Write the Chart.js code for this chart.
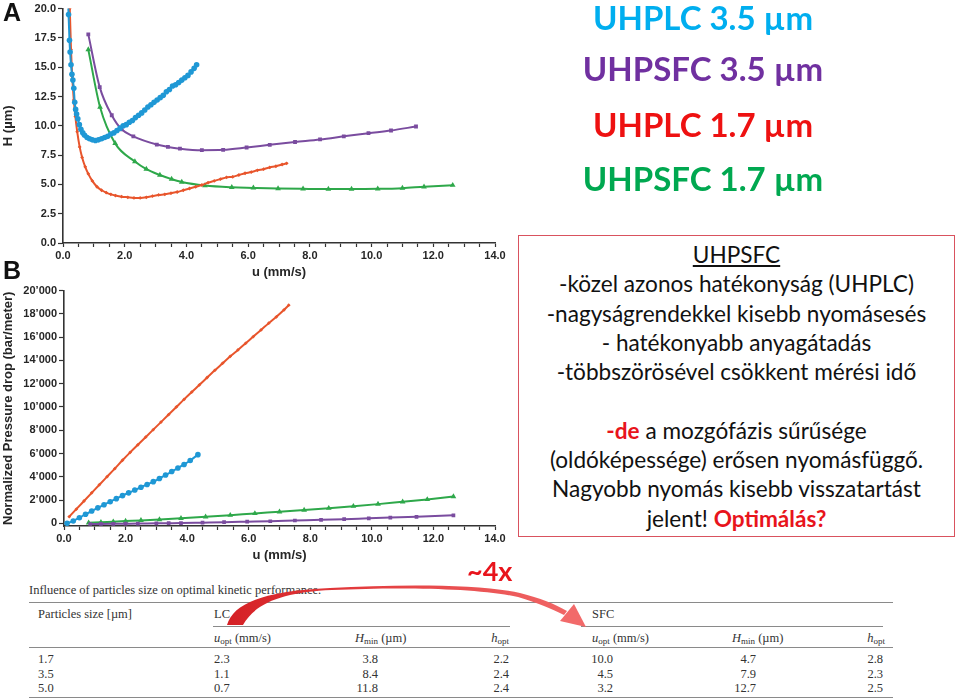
<!DOCTYPE html>
<html>
<head>
<meta charset="utf-8">
<script src="https://cdn.jsdelivr.net/npm/chart.js@4.4.1/dist/chart.umd.min.js"></script>
<style>
    body { margin: 0; width: 959px; height: 700px; position: relative; overflow: hidden; background: #fff; font-family: Lato, sans-serif; }
    canvas { position: absolute; left: 0; }
    .panel { position: absolute; left: 3px; font: bold 25px 'Liberation Sans', sans-serif; color: #111; line-height: 1; }
    .big { position: absolute; left: 503px; width: 400px; text-align: center; font-weight: bold; font-size: 33px; line-height: 1; white-space: nowrap; }
    .box { position: absolute; left: 518px; top: 235px; width: 437px; height: 302px; box-sizing: border-box; border: 1.5px solid #d9525e;
           padding-top: 4px; text-align: center; font-size: 22.6px; line-height: 29.3px; color: #111; white-space: nowrap; }
    .red { color: #e8141c; font-weight: bold; }
    .t { position: absolute; font: 12.5px 'Liberation Serif', serif; color: #333; line-height: 14px; white-space: nowrap; }
    .t sub { font-size: 9px; vertical-align: -2px; line-height: 0; }
    .rule { position: absolute; height: 0; border-top: 1.4px solid #8a8a8a; }
    .four { position: absolute; left: 467px; top: 557px; font-weight: bold; font-size: 27px; line-height: 1; color: #e8141c; }
</style>
</head>
<body>

<canvas id="chart-a" width="510" height="285" style="top:0;width:510px;height:285px"></canvas>
<canvas id="chart-b" width="510" height="286" style="top:282px;width:510px;height:286px"></canvas>
<div class="panel" style="top:0">A</div>
<div class="panel" style="top:258px">B</div>

<div class="big" style="top:1px;color:#00aeef">UHPLC 3.5 µm</div>
<div class="big" style="top:52px;color:#7030a0">UHPSFC 3.5 µm</div>
<div class="big" style="top:108px;color:#ee1111">UHPLC 1.7 µm</div>
<div class="big" style="top:162px;color:#00a850">UHPSFC 1.7 µm</div>

<div class="box">
    <u>UHPSFC</u><br>
    -közel azonos hatékonyság (UHPLC)<br>
    -nagyságrendekkel kisebb nyomásesés<br>
    - hatékonyabb anyagátadás<br>
    -többszörösével csökkent mérési idő<br>
    <br>
    <span class="red">-de</span> a mozgófázis sűrűsége<br>
    (oldóképessége) erősen nyomásfüggő.<br>
    Nagyobb nyomás kisebb visszatartást<br>
    jelent! <span class="red">Optimálás?</span>
</div>

<!-- table -->
<div class="t" style="left:29px;top:583px">Influence of particles size on optimal kinetic performance.</div>
<div class="rule" style="left:29px;top:602px;width:864px"></div>
<div class="t" style="left:38px;top:607px">Particles size [µm]</div>
<div class="t" style="left:214px;top:607px">LC</div>
<div class="t" style="left:592px;top:607px">SFC</div>
<div class="rule" style="left:213px;top:626px;width:297px"></div>
<div class="rule" style="left:581px;top:626px;width:302px"></div>
<div class="t" style="left:214px;top:631px"><i>u</i><sub>opt</sub> (mm/s)</div>
<div class="t" style="left:355px;top:631px"><i>H</i><sub>min</sub> (µm)</div>
<div class="t" style="right:450px;top:631px"><i>h</i><sub>opt</sub></div>
<div class="t" style="left:592px;top:631px"><i>u</i><sub>opt</sub> (mm/s)</div>
<div class="t" style="left:732px;top:631px"><i>H</i><sub>min</sub> (µm)</div>
<div class="t" style="right:74px;top:631px"><i>h</i><sub>opt</sub></div>
<div class="rule" style="left:29px;top:647px;width:864px"></div>
<div id="rows"></div>
<div class="rule" style="left:29px;top:697px;width:864px"></div>

<div class="four">~4x</div>
<svg width="959" height="700" style="position:absolute;left:0;top:0;pointer-events:none">
    <defs>
        <linearGradient id="arrowFill" x1="220" y1="0" x2="590" y2="0" gradientUnits="userSpaceOnUse">
            <stop offset="0" stop-color="#d41f24"/>
            <stop offset="0.35" stop-color="#e23a3c"/>
            <stop offset="1" stop-color="#f26a6a"/>
        </linearGradient>
    </defs>
    <path fill="url(#arrowFill)" d="M 227 625 C 233 604, 262 591, 330 588 C 400 584, 480 584, 520 593 C 540 598, 555 604, 567 611 L 564 615 C 552 609, 538 603, 518 597 C 478 588, 400 587, 332 590 C 285 592, 256 602, 243 625 Z"/>
    <polygon fill="#f26a6a" points="574,604 586,627 560,621"/>
</svg>

<script>
// ---- Panel A: H (µm) vs u (mm/s) ----
const hplc35U = [0.15, 0.18, 0.21, 0.23, 0.26, 0.29, 0.32, 0.35, 0.38, 0.41, 0.44, 0.48, 0.53, 0.58, 0.64, 0.70, 0.78, 0.86, 0.95, 1.05, 1.15, 1.25, 1.35, 1.45, 1.55, 1.65, 1.75, 1.85, 1.95, 2.05, 2.15, 2.25, 2.35, 2.45, 2.55, 2.65, 2.75, 2.85, 2.95, 3.05, 3.15, 3.25, 3.35, 3.45, 3.55, 3.65, 3.75, 3.85, 3.95, 4.05, 4.15, 4.25, 4.33];
const hplc35H = [22, 19.5, 17.3, 16.3, 15.2, 14.4, 13.9, 13.2, 12.0, 11.4, 11.0, 10.6, 10.1, 9.7, 9.4, 9.2, 9.0, 8.9, 8.8, 8.75, 8.8, 8.9, 9.0, 9.1, 9.3, 9.4, 9.6, 9.8, 10.0, 10.1, 10.3, 10.45, 10.7, 10.9, 11.1, 11.35, 11.6, 11.8, 12.0, 12.2, 12.4, 12.6, 12.9, 13.1, 13.4, 13.5, 13.7, 13.9, 14.1, 14.3, 14.6, 14.9, 15.2];

const hplc17U = [0.18, 0.22, 0.26, 0.30, 0.35, 0.40, 0.46, 0.54, 0.62, 0.72, 0.82, 0.95, 1.1, 1.25, 1.4, 1.55, 1.7, 1.9, 2.1, 2.3, 2.5, 2.7, 2.9, 3.1, 3.3, 3.5, 3.7, 3.9, 4.1, 4.3, 4.5, 4.7, 4.9, 5.1, 5.3, 5.5, 5.7, 5.9, 6.1, 6.3, 6.5, 6.7, 6.9, 7.1, 7.25];
const hplc17H = [24, 20, 16.5, 14.2, 12.2, 10.8, 9.5, 8.2, 7.3, 6.5, 5.9, 5.3, 4.8, 4.5, 4.3, 4.15, 4.05, 3.95, 3.9, 3.85, 3.85, 3.9, 4.0, 4.1, 4.15, 4.25, 4.35, 4.5, 4.65, 4.8, 4.95, 5.15, 5.3, 5.45, 5.6, 5.65, 5.8, 5.95, 6.05, 6.2, 6.3, 6.45, 6.55, 6.7, 6.8];

const sfc35U = [0.82, 1.19, 1.58, 1.9, 2.28, 3.04, 3.4, 3.79, 4.5, 5.19, 5.95, 6.7, 7.52, 8.33, 9.1, 9.9, 10.63, 11.44];
const sfc35H = [17.8, 13.3, 10.9, 9.7, 9.1, 8.4, 8.2, 8.05, 7.92, 7.95, 8.15, 8.38, 8.62, 8.84, 9.1, 9.37, 9.6, 9.94];

const sfc17U = [0.82, 1.2, 1.69, 2.33, 2.7, 3.14, 3.52, 3.85, 4.6, 5.47, 6.17, 6.97, 7.78, 8.6, 9.35, 10.2, 11.0, 11.7, 12.63];
const sfc17H = [16.5, 11.6, 8.5, 6.95, 6.3, 5.8, 5.45, 5.2, 4.9, 4.75, 4.7, 4.65, 4.62, 4.6, 4.6, 4.62, 4.68, 4.8, 4.93];

// ---- Panel B: normalized pressure drop (bar/meter) vs u (mm/s) ----
const dpHplc35U = [0.1, 0.3, 0.5, 0.7, 0.9, 1.1, 1.3, 1.5, 1.7, 1.9, 2.1, 2.3, 2.5, 2.7, 2.9, 3.1, 3.3, 3.5, 3.7, 3.9, 4.1, 4.35];
const dpHplc35P = [0, 200, 480, 780, 1060, 1330, 1600, 1860, 2120, 2380, 2620, 2860, 3100, 3340, 3580, 3850, 4150, 4450, 4750, 5060, 5400, 5900];

const dpHplc17U = [0.17, 0.4, 0.65, 0.9, 1.15, 1.4, 1.65, 1.9, 2.15, 2.4, 2.65, 2.9, 3.15, 3.4, 3.65, 3.9, 4.15, 4.4, 4.65, 4.9, 5.15, 5.4, 5.65, 5.9, 6.15, 6.4, 6.65, 6.9, 7.15, 7.3];
const dpHplc17P = [570, 1220, 1920, 2620, 3320, 4010, 4700, 5420, 6100, 6750, 7400, 8050, 8700, 9350, 10000, 10650, 11280, 11900, 12530, 13150, 13750, 14350, 14900, 15470, 16050, 16620, 17200, 17750, 18350, 18750];

const dpSfc35U = [0.85, 1.2, 1.6, 2.0, 2.4, 3.0, 3.4, 3.8, 4.5, 5.2, 5.95, 6.7, 7.5, 8.35, 9.1, 9.9, 10.6, 11.45, 12.65];
const dpSfc35P = [-60, -50, -40, -30, -20, 0, 10, 20, 60, 100, 140, 180, 240, 300, 360, 430, 490, 560, 690];

const dpSfc17U = [0.8, 1.2, 1.6, 2.0, 2.5, 3.1, 3.8, 4.6, 5.4, 6.2, 7.0, 7.8, 8.6, 9.4, 10.2, 11.0, 11.8, 12.65];
const dpSfc17P = [40, 90, 140, 190, 250, 330, 430, 560, 700, 850, 990, 1140, 1300, 1470, 1650, 1850, 2050, 2300];

const pressureTicks = [0, 2000, 4000, 6000, 8000, 10000, 12000, 14000, 16000, 18000, 20000];

// ---- table ----
const particleSizes = ['1.7', '3.5', '5.0'];
const lcUopt = ['2.3', '1.1', '0.7'];
const lcHmin = ['3.8', '8.4', '11.8'];
const lcHopt = ['2.2', '2.4', '2.4'];
const sfcUopt = ['10.0', '4.5', '3.2'];
const sfcHmin = ['4.7', '7.9', '12.7'];
const sfcHopt = ['2.8', '2.3', '2.5'];

const colors = {
    hplc35: '#1f98d5',
    hplc17: '#e8552c',
    sfc35: '#7a4c9f',
    sfc17: '#2ea84a'
};
const axisColor = '#333';
const textColor = '#262626';
const tickFont = { family: 'Liberation Sans', size: 11, weight: 'bold' };
const titleFont = { family: 'Liberation Sans', size: 13, weight: 'bold' };

function pts(xs, ys) {
    return xs.map((x, i) => ({ x: x, y: ys[i] }));
}

function series(xs, ys, color, style, radius) {
    return {
        data: pts(xs, ys),
        showLine: true,
        borderColor: color,
        backgroundColor: color,
        borderWidth: 2,
        pointStyle: style,
        pointRadius: radius,
        pointBorderWidth: 0,
        cubicInterpolationMode: 'monotone'
    };
}

function uAxis() {
    return {
        type: 'linear',
        min: 0,
        max: 14,
        border: { color: axisColor, width: 1.6 },
        grid: { drawOnChartArea: false, tickLength: 4, color: axisColor, tickWidth: 1.2 },
        ticks: {
            stepSize: 0.5,
            autoSkip: false,
            maxRotation: 0,
            padding: 2,
            color: textColor,
            font: tickFont,
            callback: v => (v % 2 === 0 ? v.toFixed(1) : '')
        },
        title: { display: true, text: 'u (mm/s)', color: textColor, font: titleFont, padding: { top: 0, bottom: 5 } },
        afterFit: scale => { scale.height = 42; }
    };
}

const common = {
    responsive: false,
    animation: false,
    plugins: { legend: { display: false }, tooltip: { enabled: false } }
};

new Chart(document.getElementById('chart-a'), {
    type: 'scatter',
    data: {
        datasets: [
            series(hplc35U, hplc35H, colors.hplc35, 'circle', 2.8),
            series(hplc17U, hplc17H, colors.hplc17, 'rectRot', 1.9),
            series(sfc35U, sfc35H, colors.sfc35, 'rect', 2.7),
            series(sfc17U, sfc17H, colors.sfc17, 'triangle', 3.3)
        ]
    },
    options: Object.assign({}, common, {
        layout: { padding: { top: 7, right: 15, left: 0, bottom: 0 } },
        scales: {
            x: uAxis(),
            y: {
                min: 0,
                max: 20,
                border: { color: axisColor, width: 1.6 },
                grid: { drawOnChartArea: false, tickLength: 5, color: axisColor, tickWidth: 1.2 },
                ticks: { stepSize: 2.5, padding: 2, color: textColor, font: tickFont, callback: v => v.toFixed(1) },
                title: { display: true, text: 'H (µm)', color: textColor, font: titleFont, padding: { top: 1, bottom: 0 } },
                afterFit: scale => { scale.width = 63; }
            }
        }
    })
});

new Chart(document.getElementById('chart-b'), {
    type: 'scatter',
    data: {
        datasets: [
            series(dpHplc35U, dpHplc35P, colors.hplc35, 'circle', 2.8),
            series(dpHplc17U, dpHplc17P, colors.hplc17, 'rectRot', 1.9),
            series(dpSfc35U, dpSfc35P, colors.sfc35, 'rect', 2.6),
            series(dpSfc17U, dpSfc17P, colors.sfc17, 'triangle', 3.3)
        ]
    },
    options: Object.assign({}, common, {
        layout: { padding: { top: 6, right: 15, left: 0, bottom: 0 } },
        scales: {
            x: uAxis(),
            y: {
                min: -230,
                max: 20000,
                border: { color: axisColor, width: 1.6 },
                grid: { drawOnChartArea: false, tickLength: 5, color: axisColor, tickWidth: 1.2 },
                ticks: {
                    padding: 2,
                    color: textColor,
                    font: tickFont,
                    callback: v => (v === 0 ? '0' : (v / 1000) + '\u2019000')
                },
                afterBuildTicks: scale => {
                    scale.ticks = pressureTicks.map(v => ({ value: v }));
                },
                title: { display: true, text: 'Normalized Pressure drop (bar/meter)', color: textColor, font: titleFont, padding: { top: 1, bottom: 0 } },
                afterFit: scale => { scale.width = 64; }
            }
        }
    })
});

// table body rows
const rowTops = [652, 666.5, 681];
const rowsEl = document.getElementById('rows');
rowsEl.innerHTML = particleSizes.map((p, i) => `
    <div class="t" style="left:38px;top:${rowTops[i]}px">${p}</div>
    <div class="t" style="left:214px;top:${rowTops[i]}px">${lcUopt[i]}</div>
    <div class="t" style="right:581px;top:${rowTops[i]}px">${lcHmin[i]}</div>
    <div class="t" style="right:450px;top:${rowTops[i]}px">${lcHopt[i]}</div>
    <div class="t" style="right:346px;top:${rowTops[i]}px">${sfcUopt[i]}</div>
    <div class="t" style="right:203px;top:${rowTops[i]}px">${sfcHmin[i]}</div>
    <div class="t" style="right:76px;top:${rowTops[i]}px">${sfcHopt[i]}</div>
`).join('');
</script>
</body>
</html>
